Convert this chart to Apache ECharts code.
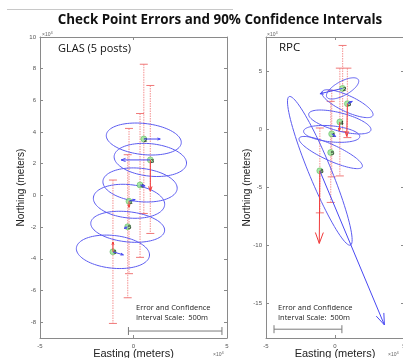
<!DOCTYPE html>
<html>
<head>
<meta charset="utf-8">
<title>Check Point Errors and 90% Confidence Intervals</title>
<script src="https://cdn.jsdelivr.net/npm/echarts@6/dist/echarts.min.js"></script>
<style>
  html, body { margin: 0; padding: 0; background: #fff; }
  #chart { width: 403px; height: 358px; }
</style>
</head>
<body>
<div id="chart"></div>
<script>
// check points (x10^4 m) - same points in both panels
const pointIds = ['2', '3', '4', '1', '5', '6']
const pointX = [0.55, 0.9, 0.35, -0.24, -0.31, -1.1]
const pointY = [3.56, 2.24, 0.66, -0.37, -1.98, -3.56]

// GLAS error bars (low / high)
const glasBarLow = [-1.14, -2.40, -3.91, -4.94, -6.46, -8.08]
const glasBarHigh = [8.28, 6.94, 5.17, 4.23, 2.57, 0.97]
// RPC error bars
const rpcBarLow = [-0.17, -0.69, -4.0, -4.08, -6.29, -7.19]
const rpcBarHigh = [7.27, 5.31, 5.31, 3.39, 2.44, 0.14]

// 90% confidence ellipses: semi axes + tilt (deg)
const glasEllA = [2.02, 1.95, 2.0, 1.92, 1.99, 1.97]
const glasEllB = [0.98, 1.02, 1.05, 1.05, 0.95, 1.03]
const glasEllTilt = [-8, -8, -8, -8, -8, -8]
const rpcEllA = [1.37, 2.11, 2.36, 2.05, 2.6, 6.79]
const rpcEllB = [0.58, 0.67, 0.77, 0.69, 0.67, 0.82]
const rpcEllTilt = [35, -30, -18, -7, -29, -71]

// error arrows (end points, null = no arrow)
const glasBlueEndX = [1.43, -0.66, 0.62, 0.09, -0.5, -0.54]
const glasBlueEndY = [3.56, 2.24, 0.6, -0.26, -2.08, -3.75]
const glasRedEndX = [null, 0.9, null, -0.24, null, -1.1]
const glasRedEndY = [null, 0.27, null, -0.75, null, -2.94]
const rpcBlueEndX = [-1.09, 1.25, null, 0.05, null, 3.58]
const rpcBlueEndY = [3.1, 2.44, null, -0.6, null, -16.87]
const rpcRedEndX = [null, 0.85, 0.31, null, null, -1.14]
const rpcRedEndY = [null, -0.58, -0.1, null, null, -9.83]

// scale bars: [x start, x end, y]
const glasScale = [-0.27, 4.73, -8.56]
const rpcScale = [-4.42, 0.5, -17.24]

// tick labels
const xTicks = [-5, 0, 5]
const glasYTicks = [-8, -6, -4, -2, 0, 2, 4, 6, 8, 10]
const rpcYTicks = [-15, -10, -5, 0, 5]

const chart = echarts.init(document.getElementById('chart'))

const axisGray = '#8a8a8a'
const labelFont = 'Liberation Sans'

// build series data from arrays
function ellipseData(a, b, tilt) {
  return pointX.map((x, i) => [x, pointY[i], a[i], b[i], tilt[i]])
}
function barData(lo, hi) {
  return pointX.map((x, i) => [x, lo[i], hi[i]])
}
function arrowData(ex, ey) {
  const out = []
  pointX.forEach((x, i) => {
    if (ex[i] !== null) out.push([x, pointY[i], ex[i], ey[i]])
  })
  return out
}

function renderEllipse(params, api) {
  const cx = api.value(0), cy = api.value(1)
  const a = api.value(2), b = api.value(3)
  const th = api.value(4) * Math.PI / 180
  const pts = []
  for (let i = 0; i <= 90; i++) {
    const t = i / 90 * Math.PI * 2
    const x = cx + a * Math.cos(t) * Math.cos(th) - b * Math.sin(t) * Math.sin(th)
    const y = cy + a * Math.cos(t) * Math.sin(th) + b * Math.sin(t) * Math.cos(th)
    pts.push(api.coord([x, y]))
  }
  return {
    type: 'polyline',
    shape: { points: pts },
    style: { stroke: '#5b5bf0', lineWidth: 1, fill: null }
  }
}

function renderBar(params, api) {
  const top = api.coord([api.value(0), api.value(2)])
  const bot = api.coord([api.value(0), api.value(1)])
  const w = 4
  return {
    type: 'group',
    children: [
      { type: 'line', shape: { x1: top[0], y1: top[1], x2: bot[0], y2: bot[1] },
        style: { stroke: '#f6a2a2', lineWidth: 1.2, lineDash: [1.5, 1] } },
      { type: 'line', shape: { x1: top[0] - w, y1: top[1], x2: top[0] + w, y2: top[1] },
        style: { stroke: '#f07878', lineWidth: 1 } },
      { type: 'line', shape: { x1: bot[0] - w, y1: bot[1], x2: bot[0] + w, y2: bot[1] },
        style: { stroke: '#f07878', lineWidth: 1 } }
    ]
  }
}

function makeArrowRenderer(color) {
  return function (params, api) {
    const p0 = api.coord([api.value(0), api.value(1)])
    const p1 = api.coord([api.value(2), api.value(3)])
    const dx = p1[0] - p0[0], dy = p1[1] - p0[1]
    const len = Math.sqrt(dx * dx + dy * dy)
    const head = Math.max(3, Math.min(len * 0.16, 12))
    const ang = Math.atan2(dy, dx)
    const h1 = [p1[0] - head * Math.cos(ang - 0.35), p1[1] - head * Math.sin(ang - 0.35)]
    const h2 = [p1[0] - head * Math.cos(ang + 0.35), p1[1] - head * Math.sin(ang + 0.35)]
    return {
      type: 'group',
      children: [
        { type: 'line', shape: { x1: p0[0], y1: p0[1], x2: p1[0], y2: p1[1] },
          style: { stroke: color, lineWidth: 1 } },
        { type: 'polyline', shape: { points: [h1, p1, h2] },
          style: { stroke: color, lineWidth: 1, fill: null } }
      ]
    }
  }
}

function renderScale(params, api) {
  const y = api.value(2)
  const p0 = api.coord([api.value(0), y])
  const p1 = api.coord([api.value(1), y])
  const t = 4
  const st = { stroke: '#7a7a7a', lineWidth: 1 }
  return {
    type: 'group',
    children: [
      { type: 'line', shape: { x1: p0[0], y1: p0[1], x2: p1[0], y2: p1[1] }, style: st },
      { type: 'line', shape: { x1: p0[0], y1: p0[1] - t, x2: p0[0], y2: p0[1] + t }, style: st },
      { type: 'line', shape: { x1: p1[0], y1: p1[1] - t, x2: p1[0], y2: p1[1] + t }, style: st }
    ]
  }
}

function xAxisFor(gridIndex, bottom) {
  return {
    gridIndex: gridIndex,
    type: 'value',
    position: bottom ? 'bottom' : 'top',
    min: -5, max: 5, interval: 5,
    axisLine: { onZero: false, lineStyle: { color: axisGray } },
    axisTick: { inside: true, length: 3, lineStyle: { color: axisGray } },
    axisLabel: { show: bottom, fontSize: 6, color: '#555', margin: 5, fontFamily: labelFont },
    splitLine: { show: false },
    name: bottom ? 'Easting (meters)' : '',
    nameLocation: 'middle',
    nameGap: 10,
    nameMoveOverlap: false,
    nameTextStyle: { fontSize: 11, color: '#222', fontFamily: labelFont }
  }
}

function yAxisFor(gridIndex, left, min, max, ticks) {
  return {
    gridIndex: gridIndex,
    type: 'value',
    position: left ? 'left' : 'right',
    min: min, max: max,
    axisLine: { onZero: false, lineStyle: { color: axisGray } },
    axisTick: { inside: true, length: 3, customValues: ticks, lineStyle: { color: axisGray } },
    axisLabel: { show: left, customValues: ticks, fontSize: 6, color: '#555', margin: 4, fontFamily: labelFont },
    splitLine: { show: false },
    name: left ? 'Northing (meters)' : '',
    nameLocation: 'middle',
    nameGap: 14,
    nameMoveOverlap: false,
    nameTextStyle: { fontSize: 10, color: '#222', fontFamily: labelFont }
  }
}

function tenPow(x, y) {
  return {
    type: 'text', x: x, y: y,
    style: {
      text: '{a|×10}{b|4}',
      rich: {
        a: { fontSize: 5, fill: '#666', fontFamily: labelFont },
        b: { fontSize: 4, fill: '#666', fontFamily: labelFont, verticalAlign: 'top', padding: [0, 0, 3, 0] }
      }
    }
  }
}

function scaleText(x, y) {
  return {
    type: 'text', x: x, y: y,
    style: {
      text: 'Error and Confidence\nInterval Scale:  500m',
      fontSize: 7.5, lineHeight: 10, fill: '#222', fontFamily: 'Open Sans'
    }
  }
}

function panelSeries(xi, yi, ellA, ellB, ellTilt, lo, hi, bx, by, rx, ry, scale) {
  return [
    { type: 'custom', xAxisIndex: xi, yAxisIndex: yi, renderItem: renderBar,
      data: barData(lo, hi), silent: true, z: 1 },
    { type: 'custom', xAxisIndex: xi, yAxisIndex: yi, renderItem: renderEllipse,
      data: ellipseData(ellA, ellB, ellTilt), silent: true, z: 2 },
    { type: 'scatter', xAxisIndex: xi, yAxisIndex: yi, symbolSize: 6,
      itemStyle: { color: '#92e692', borderColor: '#4caa4c', borderWidth: 0.6 },
      label: {
        show: true, position: 'inside', offset: [2, 1], fontSize: 6, fontWeight: 'bold', color: '#111',
        formatter: p => pointIds[p.dataIndex]
      },
      data: pointX.map((x, i) => [x, pointY[i]]), z: 3 },
    { type: 'custom', xAxisIndex: xi, yAxisIndex: yi, renderItem: makeArrowRenderer('#4848f2'),
      data: arrowData(bx, by), silent: true, z: 4 },
    { type: 'custom', xAxisIndex: xi, yAxisIndex: yi, renderItem: makeArrowRenderer('#f03a3a'),
      data: arrowData(rx, ry), silent: true, z: 4 },
    { type: 'custom', xAxisIndex: xi, yAxisIndex: yi, renderItem: renderScale,
      data: [scale], silent: true, z: 1 }
  ]
}

const option = {
  animation: false,
  grid: [
    { left: 40, top: 37, width: 187, height: 301, outerBoundsMode: 'none', containLabel: false },
    { left: 266, top: 37, width: 138, height: 301, outerBoundsMode: 'none', containLabel: false }
  ],
  xAxis: [xAxisFor(0, true), xAxisFor(0, false), xAxisFor(1, true), xAxisFor(1, false)],
  yAxis: [
    yAxisFor(0, true, -9, 10, glasYTicks), yAxisFor(0, false, -9, 10, glasYTicks),
    yAxisFor(1, true, -18, 8, rpcYTicks), yAxisFor(1, false, -18, 8, rpcYTicks)
  ],
  graphic: [
    { type: 'line', shape: { x1: 7, y1: 9.5, x2: 233, y2: 9.5 }, style: { stroke: '#c8c8c8', lineWidth: 1 } },
    { type: 'text', x: 220, y: 20,
      style: { text: 'Check Point Errors and 90% Confidence Intervals', fontSize: 13.4, fontWeight: 'bold',
        fill: '#111', fontFamily: 'Open Sans', textAlign: 'center', textVerticalAlign: 'middle' } },
    { type: 'text', x: 58, y: 43,
      style: { text: 'GLAS (5 posts)', fontSize: 11, fill: '#111', fontFamily: 'Open Sans' } },
    { type: 'text', x: 279, y: 42,
      style: { text: 'RPC', fontSize: 11.5, fill: '#111', fontFamily: 'Open Sans' } },
    scaleText(136, 303),
    scaleText(278, 303),
    tenPow(42, 31), tenPow(267, 31), tenPow(213, 351), tenPow(388, 351)
  ],
  series: [
    ...panelSeries(0, 0, glasEllA, glasEllB, glasEllTilt, glasBarLow, glasBarHigh,
      glasBlueEndX, glasBlueEndY, glasRedEndX, glasRedEndY, glasScale),
    ...panelSeries(2, 2, rpcEllA, rpcEllB, rpcEllTilt, rpcBarLow, rpcBarHigh,
      rpcBlueEndX, rpcBlueEndY, rpcRedEndX, rpcRedEndY, rpcScale)
  ]
}

chart.setOption(option)
</script>
</body>
</html>
